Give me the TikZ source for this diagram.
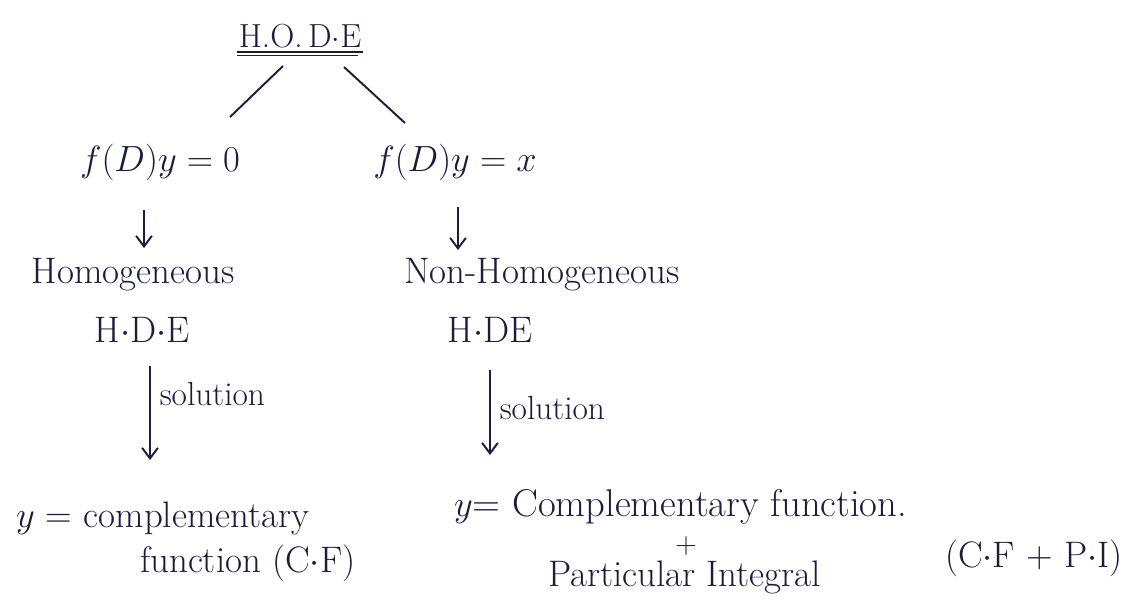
\documentclass[tikz,border=0pt]{standalone}
\usepackage{fontspec}
\usetikzlibrary{arrows.meta,calc}
\definecolor{ink}{RGB}{28,28,62}
\begin{document}
\begin{tikzpicture}[x=0.02cm,y=-0.02cm,
  txt/.style={text=ink,inner sep=1pt,font=\fontsize{21}{25}\selectfont},
  lbl/.style={text=ink,inner sep=1pt,font=\fontsize{19}{23}\selectfont,anchor=west},
  conn/.style={draw=ink,line width=1.1pt},
  arr/.style={draw=ink,line width=1.1pt,-{Straight Barb[length=6pt,width=9pt]}}]
\useasboundingbox[fill=white] (0,0) rectangle (1132,599);
% nodes
\node[txt,font=\fontsize{19}{23}\selectfont] (hode) at (300,36) {H.O.\,D$\cdot$E};
\node[txt] (eq1) at (160,162) {$f(D)y=0$};
\node[txt] (eq2) at (455,162) {$f(D)y=x$};
\node[txt] (hom) at (133,275) {Homogeneous};
\node[txt] (nhom) at (542,275) {Non-Homogeneous};
\node[txt] (hde1) at (142,330) {H$\cdot$D$\cdot$E};
\node[txt] (hde2) at (490,330) {H$\cdot$DE};
\node[txt,anchor=west] (y1) at (14,518) {$y$ = complementary};
\node[txt,anchor=west] (f1) at (138,563) {function (C$\cdot$F)};
\node[txt,anchor=west,font=\fontsize{22}{26}\selectfont] (y2) at (452,507) {$y$= Complementary function.};
\node[txt,inner sep=0pt,font=\fontsize{17}{20}\selectfont] (plus) at (686,546) {+};
\node[txt,anchor=west] (pi) at (546,577) {Particular Integral};
\node[txt,anchor=west] (cfpi) at (943,558) {(C$\cdot$F + P$\cdot$I)};
% underline
\draw[conn] ($(hode.south west)+(0,2)$) -- ($(hode.south east)+(0,2)$);
\draw[draw=ink,line width=0.6pt] ($(hode.south west)+(0,5)$) -- ($(hode.south east)+(-5,5)$);
% branches
\draw[conn] ($(hode)+(-17,30)$) -- ($(eq1)+(70,-45)$);
\draw[conn] ($(hode)+(44,31)$) -- ($(eq2)+(-50,-39)$);
% short arrows
\draw[arr] ($(eq1)+(-16,48)$) -- ($(eq1)+(-16,86)$);
\draw[arr] ($(eq2)+(3,45)$) -- ($(eq2)+(3,88)$);
% long arrows
\draw[arr] ($(hde1)+(8,36)$) -- node[lbl,pos=0.3,xshift=4pt]{solution} ($(hde1)+(8,130)$);
\draw[arr] ($(hde2)+(0,40)$) -- node[lbl,pos=0.45,xshift=4pt]{solution} ($(hde2)+(0,125)$);
\end{tikzpicture}
\end{document}
